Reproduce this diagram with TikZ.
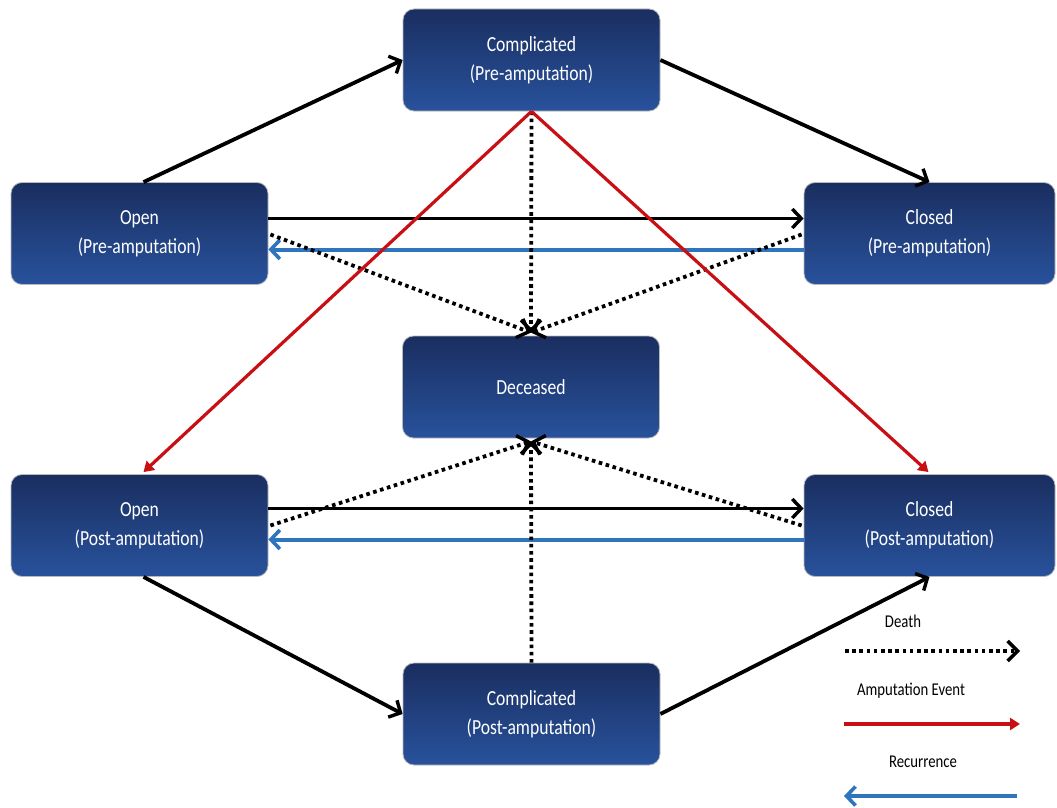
\documentclass[tikz,border=0pt]{standalone}
\usepackage{fontspec}
\setmainfont{Carlito}
\newfontfamily\narrowf[FakeStretch=0.82]{Carlito}
\usetikzlibrary{arrows.meta,calc}
\definecolor{boxtop}{RGB}{26,46,96}
\definecolor{boxbot}{RGB}{40,82,156}
\definecolor{redarr}{RGB}{200,16,20}
\definecolor{bluearr}{RGB}{46,117,190}
\tikzset{
  state/.style={rounded corners=11pt, minimum width=257pt, minimum height=102pt,
    top color=boxtop, bottom color=boxbot, draw=gray!55, line width=0.8pt,
    text=white, align=center, font=\narrowf\fontsize{21.5}{29}\selectfont, inner sep=0pt},
  trans/.style={line width=3.8pt, -{Straight Barb[length=9pt,width=19pt,line width=3.4pt]}},
  death/.style={line width=3.8pt, dash pattern=on 3.6pt off 3.6pt,
    -{Straight Barb[length=10pt,width=20pt,line width=3.4pt]}},
  amp/.style={draw=redarr, line width=3.2pt, -{Triangle[length=10pt,width=12pt]}},
  recur/.style={draw=bluearr, line width=4pt, -{Straight Barb[length=9pt,width=19pt,line width=3.6pt]}},
  legtext/.style={font=\narrowf\fontsize{18}{20}\selectfont, text=black}
}
\begin{document}
\begin{tikzpicture}[x=1pt,y=-1pt]
\useasboundingbox (0,0) rectangle (1057,808);
\node[state] (cpre) at (531.5,60) {Complicated\\(Pre-amputation)};
\node[state] (opre) at (139.5,233.5) {Open\\(Pre-amputation)};
\node[state, minimum width=251pt] (clpre) at (929.5,233.5) {Closed\\(Pre-amputation)};
\node[state] (dec) at (531,387) {Deceased};
\node[state] (opost) at (139.5,525.5) {Open\\(Post-amputation)};
\node[state, minimum width=251pt] (clpost) at (929.5,525.5) {Closed\\(Post-amputation)};
\node[state] (cpost) at (531.5,714) {Complicated\\(Post-amputation)};

% black transitions
\draw[trans] ($(opre.north)+(4,0)$) -- (cpre.west);
\draw[trans] (cpre.east) -- (clpre.north);
\draw[trans] ($(opre.east)+(0,-15)$) -- ($(clpre.west)+(0,-15)$);
\draw[trans] ($(opost.east)+(0,-17)$) -- ($(clpost.west)+(0,-17)$);
\draw[trans] ($(opost.south)+(4,0)$) -- (cpost.west);
\draw[trans] (cpost.east) -- (clpost.south);

% recurrence
\draw[recur] ($(clpre.west)+(0,16)$) -- ($(opre.east)+(0,16)$);
\draw[recur] ($(clpost.west)+(0,14)$) -- ($(opost.east)+(0,14)$);

% death
\draw[death] ($(opre.east)+(2,1)$) -- ($(dec.north)+(0,-3)$);
\draw[death] ($(clpre.west)+(-2,1)$) -- ($(dec.north)+(0,-3)$);
\draw[death] (cpre.south) -- ($(dec.north)+(0,-3)$);
\draw[death] ($(opost.east)+(2,0)$) -- ($(dec.south)+(0,3)$);
\draw[death] ($(clpost.west)+(-2,0)$) -- ($(dec.south)+(0,3)$);
\draw[death] (cpost.north) -- ($(dec.south)+(0,3)$);

% amputation
\draw[amp] (cpre.south) -- ($(opost.north)+(4,-2)$);
\draw[amp] (cpre.south) -- ($(clpost.north)+(-1,-2)$);

% legend
\node[legtext] (ldeath) at (903,621) {Death};
\coordinate (d1) at (845,651); \coordinate (d2) at (1020,651);
\draw[death] (d1) -- (d2);
\node[legtext] (lamp) at (911,691) {Amputation Event};
\coordinate (a1) at (844,724); \coordinate (a2) at (1020,724);
\draw[amp] (a1) -- (a2);
\node[legtext] (lrec) at (923,762) {Recurrence};
\coordinate (r1) at (1017,796); \coordinate (r2) at (844,796);
\draw[recur] (r1) -- (r2);
\end{tikzpicture}
\end{document}
